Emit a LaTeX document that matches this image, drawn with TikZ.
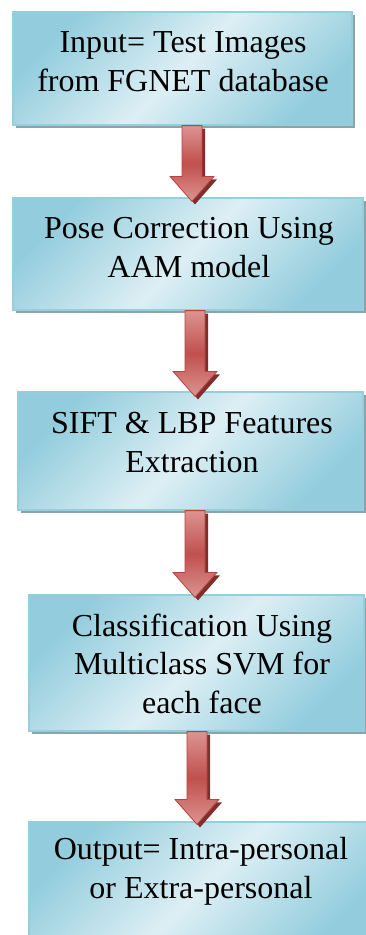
\documentclass[tikz,border=0pt]{standalone}
\usepackage{fontspec}
\setmainfont{Liberation Serif}
\usetikzlibrary{shadows,calc}

\definecolor{boxlight}{HTML}{DDEFF4}
\definecolor{boxdark}{HTML}{93CDDD}
\definecolor{boxedge}{HTML}{94CFDE}
\definecolor{boxshade}{HTML}{8DA3A7}
\definecolor{arrlight}{HTML}{DC9492}
\definecolor{arrmid}{HTML}{C0504D}
\definecolor{arredge}{HTML}{B9413E}
\definecolor{arrshade}{HTML}{7E2E2C}

\tikzset{
  stepbox/.style={draw=boxedge, line width=1.2pt, inner sep=0pt,
    top color=boxdark, bottom color=boxdark, middle color=boxlight,
    shading angle=45,
    drop shadow={shadow xshift=3pt, shadow yshift=-3pt, fill=boxshade, opacity=1}},
  steptext/.style={font=\rmfamily\fontsize{32}{38.5}\selectfont, align=center,
    anchor=base, inner sep=0pt},
  flowarrow/.style={draw=arredge, line width=0.8pt, line join=miter,
    top color=arrlight, bottom color=arrlight, middle color=arrmid,
    drop shadow={shadow xshift=3pt, shadow yshift=-3pt, fill=arrshade, opacity=1}}
}

% block arrow from the bottom of box #2 to just past the top of box #3,
% centred at x = #1; #4 is how far the tip reaches into the lower box
\newcommand\blockarrow[4]{%
  \coordinate (#2#3s) at (#1,0 |- #2.south);
  \coordinate (#2#3e) at ([yshift=-#4pt]#1,0 |- #3.north);
  \path[flowarrow] ($(#2#3s)+(-10,0)$) -- ($(#2#3s)+(10,0)$)
    -- ($(#2#3e)+(10,-25)$) -- ($(#2#3e)+(22,-25)$) -- (#2#3e)
    -- ($(#2#3e)+(-22,-25)$) -- ($(#2#3e)+(-10,-25)$) -- cycle;
}

\begin{document}
\begin{tikzpicture}[x=1pt, y=-1pt]
  \useasboundingbox (0,0) rectangle (366,935);

  % process boxes
  \node[stepbox, minimum width=339pt, minimum height=113pt] (b1) at (182.5,68.5) {};
  \node[stepbox, minimum width=350pt, minimum height=112pt] (b2) at (188,254) {};
  \node[stepbox, minimum width=345pt, minimum height=118pt] (b3) at (190.5,451) {};
  \node[stepbox, minimum width=335pt, minimum height=136pt] (b4) at (196.5,663) {};
  \node[stepbox, minimum width=338pt, minimum height=138pt] (b5) at (198,891) {};

  % box captions (placed by the baseline of their last line)
  \node[steptext] (t1) at (183,91)  {Input= Test Images\\from FGNET database};
  \node[steptext] (t2) at (189,277) {Pose Correction Using\\AAM model};
  \node[steptext] (t3) at (192,472) {SIFT \& LBP Features\\Extraction};
  \node[steptext] (t4) at (202,713) {Classification Using\\Multiclass SVM for\\each face};
  \node[steptext] (t5) at (201,898) {Output= Intra-personal\\or Extra-personal};

  % arrows between the steps
  \blockarrow{192}{b1}{b2}{4}
  \blockarrow{195}{b2}{b3}{5}
  \blockarrow{195}{b3}{b4}{3}
  \blockarrow{197}{b4}{b5}{3}
\end{tikzpicture}
\end{document}
